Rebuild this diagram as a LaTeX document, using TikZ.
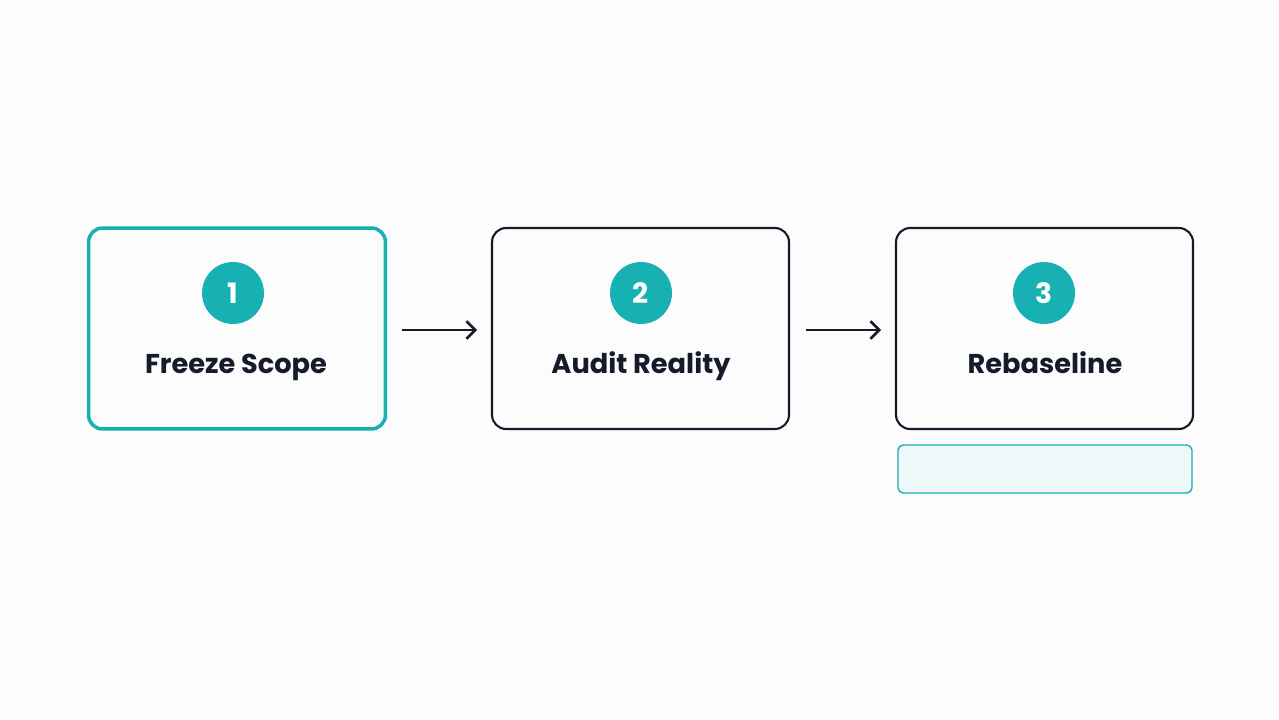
\documentclass[tikz,border=0pt]{standalone}
\usepackage{fontspec}
\setmainfont{Poppins}
\usetikzlibrary{arrows.meta}
\usetikzlibrary{positioning}
\definecolor{tealc}{HTML}{17B0B3}
\definecolor{inkc}{HTML}{161B2B}
\definecolor{paleteal}{HTML}{EEF8F9}
\tikzset{
  stepbox/.style={draw=inkc,line width=1.2pt,rounded corners=8pt,minimum width=5.94cm,minimum height=4.02cm},
  badge/.style={circle,fill=tealc,minimum size=1.24cm,text=white,font=\bfseries\fontsize{16}{18}\selectfont},
  steplabel/.style={text=inkc,anchor=base,font=\bfseries\fontsize{15.5}{18}\selectfont},
  flow/.style={inkc,line width=1.5pt,-{Straight Barb[length=5pt,width=10pt]}},
}
\begin{document}
\begin{tikzpicture}[x=0.02cm,y=-0.02cm]
	\fill[white!98!gray] (0,0) rectangle (1279,720);
	\useasboundingbox (0,0) rectangle (1279,720);
	\node[stepbox,draw=tealc,line width=2pt] (s1) at (237,328.5) {};
	\node[stepbox] (s2) at (640.5,328.5) {};
	\node[stepbox] (s3) at (1044.5,328.5) {};
	\node[badge] (b1) at (233,293) {1};
	\node[badge] (b2) at (641,293) {2};
	\node[badge] (b3) at (1044,293) {3};
	\node[steplabel] (l1) at (236,373) {Freeze Scope};
	\node[steplabel] (l2) at (641,373) {Audit Reality};
	\node[steplabel] (l3) at (1045,373) {Rebaseline};
	\node[draw=tealc,fill=paleteal,line width=0.8pt,rounded corners=3pt,
	      minimum width=5.88cm,minimum height=0.96cm] (note) at (1045,469) {};

	\coordinate (a1) at (402,330); \coordinate (a2) at (477,330);
	\coordinate (a3) at (806,330); \coordinate (a4) at (881,330);
	\draw[flow] (a1) -- (a2);
	\draw[flow] (a3) -- (a4);
\end{tikzpicture}
\end{document}
